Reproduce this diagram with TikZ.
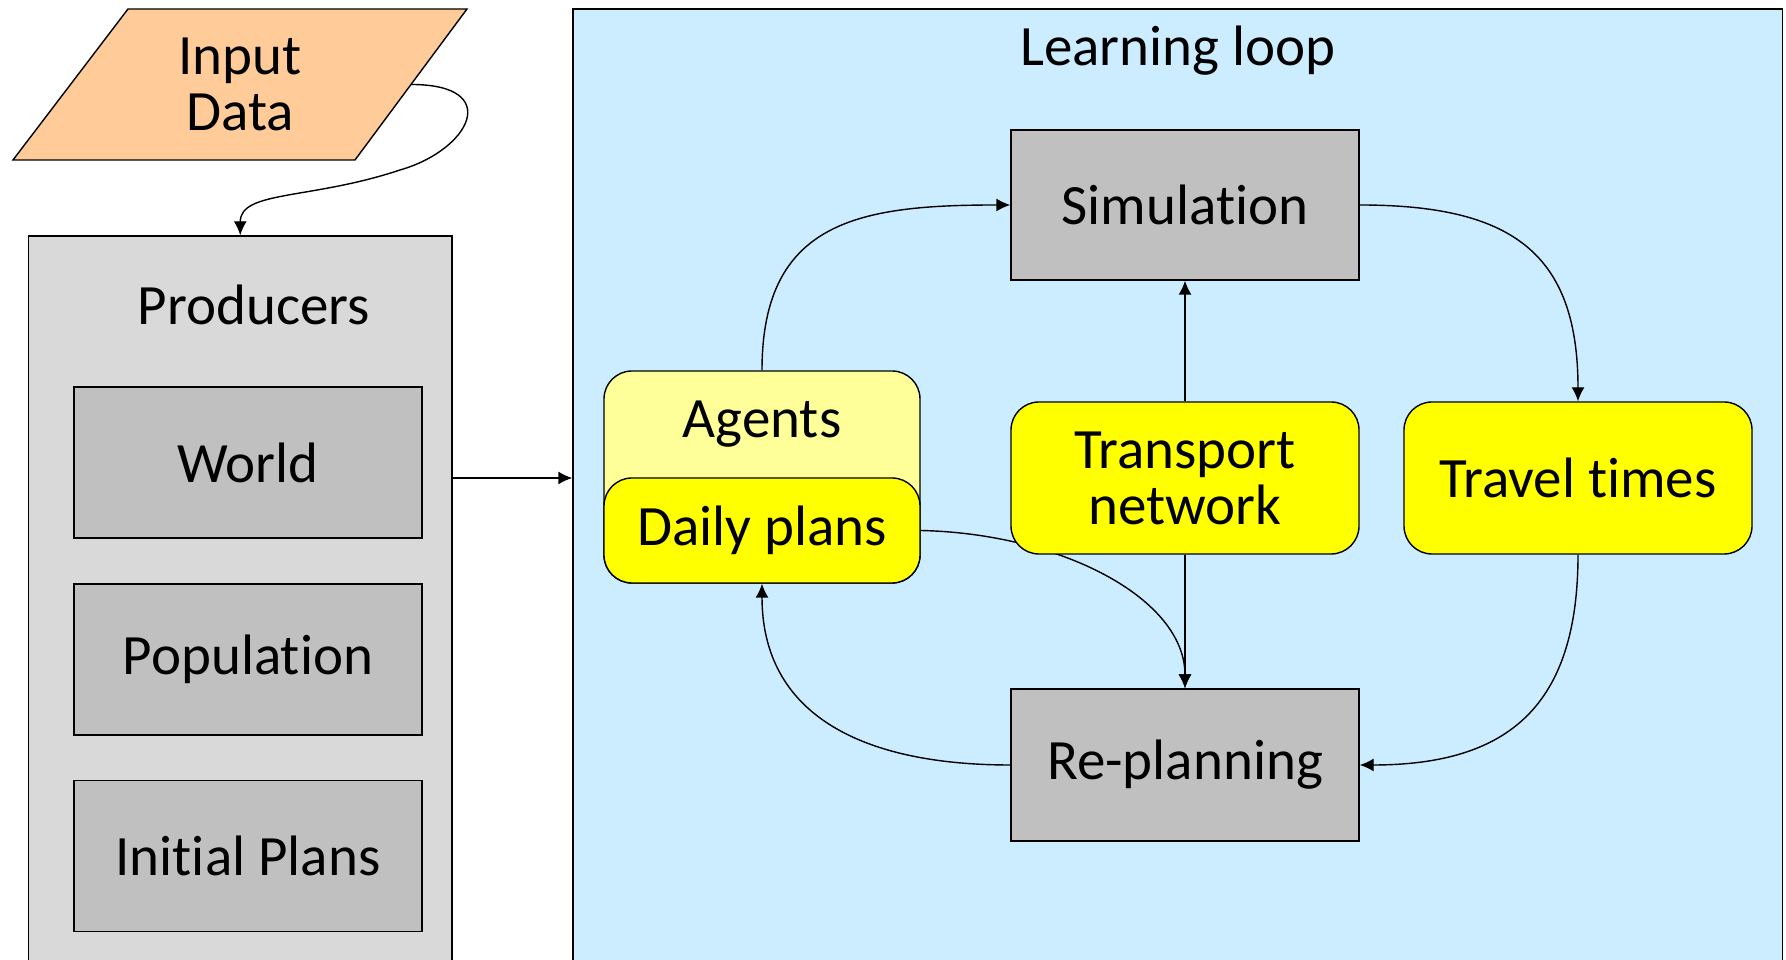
\documentclass[tikz,border=0pt]{standalone}
\usepackage{fontspec}
\setmainfont{Carlito}[Ligatures=CommonOff]
\usetikzlibrary{arrows.meta}

\definecolor{peach}{RGB}{255,204,153}
\definecolor{clgray}{RGB}{217,217,217}
\definecolor{boxgray}{RGB}{192,192,192}
\definecolor{loopblue}{RGB}{204,236,255}
\definecolor{paleyellow}{RGB}{255,255,153}
\definecolor{dyellow}{RGB}{255,255,0}

\tikzset{
  cluster/.style={draw, line width=1.4pt, inner sep=0pt},
  procbox/.style={draw, line width=1.4pt, fill=boxgray, minimum width=348pt, minimum height=151pt},
  databox/.style={draw, line width=1.4pt, fill=dyellow, rounded corners=28pt, minimum width=348pt, minimum height=152pt, align=center},
  conn/.style={-{Latex[length=14pt,width=13pt]}, line width=1.4pt}
}

\begin{document}
\begin{tikzpicture}[x=1pt, y=1pt, font=\fontsize{57}{56}\selectfont]
    \clip (0,0) rectangle (1786,960);
    \fill[white] (0,0) rectangle (1786,960);

    % clusters
    \node (producers) [cluster, fill=clgray, minimum width=423.5pt, minimum height=734pt] at (240.25,357) {};
    \node (prodtitle) at (254,655) {Producers};
    \node (loop) [cluster, fill=loopblue, minimum width=1209.5pt, minimum height=961pt] at (1177.75,470.5) {};
    \node (looptitle) at (1178,909) {Learning loop};

    % input
    \filldraw[line width=1.4pt, fill=peach] (128,951) -- (467,951) -- (355,800) -- (13,800) -- cycle;
    \node (indata) [align=center] at (240,875.5) {Input\\Data};
    \coordinate (indataE) at (411,875.5);

    % producers
    \node (world) [procbox] at (248,497.5) {World};
    \node (population) [procbox] at (248,300.5) {Population};
    \node (initplans) [procbox] at (248,104) {Initial Plans};

    % learning loop
    \node (agents) [draw, line width=1.4pt, fill=paleyellow, rounded corners=28pt, minimum width=316pt, minimum height=212pt] at (762,483) {};
    \node (agentstxt) at (762,536) {Agents};
    \node (dplans) [databox, minimum width=316pt, minimum height=105pt] at (762,429.5) {Daily plans};
    \node (sim) [procbox, minimum height=150pt] at (1185,755) {Simulation};
    \node (replan) [procbox, minimum height=152pt] at (1185,195) {Re-planning};
    \node (ttimes) [databox] at (1578,482) {Travel times};

    \draw[conn] (dplans.east) .. controls +(140,-3) and +(0,90) .. (replan.north);

    \node (tnet) [databox] at (1185,482) {Transport\\network};

    % connectors
    \coordinate (dbend) at (400,790);
    \draw[conn] (indataE) .. controls +(93,0) and +(70,20) .. (dbend)
        .. controls +(-90,-30) and +(0,45) .. (producers.north);
    \draw[conn] (producers.east |- tnet.center) -- (loop.west |- tnet.center);
    \draw[conn] (agents.north) .. controls +(0,150) and +(-150,0) .. (sim.west);
    \draw[conn] (sim.east) .. controls +(150,0) and +(0,150) .. (ttimes.north);
    \draw[conn] (tnet.north) -- (sim.south);
    \draw[conn] (tnet.south) -- (replan.north);
    \draw[conn] (replan.west) .. controls +(-150,0) and +(0,-130) .. (dplans.south);
    \draw[conn] (ttimes.south) .. controls +(0,-150) and +(150,0) .. (replan.east);
\end{tikzpicture}
\end{document}
